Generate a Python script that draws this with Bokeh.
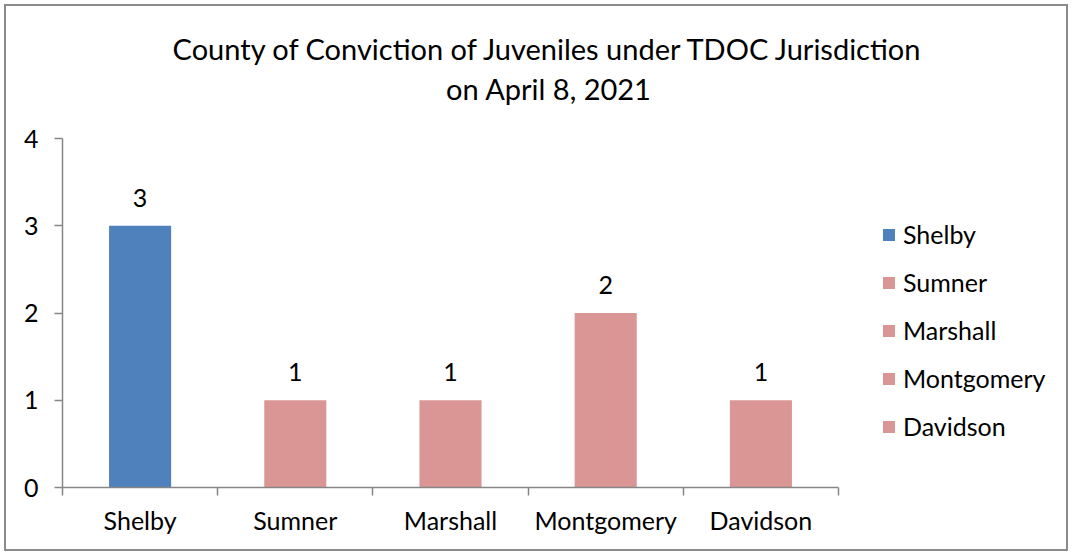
from bokeh.plotting import figure
from bokeh.models import (ColumnDataSource, FixedTicker, Legend, LegendItem,
                          Label, LabelSet, Range1d)
from bokeh.core.properties import value
from bokeh.embed import file_html
from bokeh.resources import INLINE

# ---- data ----
counties = ["Shelby", "Sumner", "Marshall", "Montgomery", "Davidson"]
counts = [3, 1, 1, 2, 1]
title_lines = ["County of Conviction of Juveniles under TDOC Jurisdiction",
               "on April 8, 2021"]
y_ticks = [0, 1, 2, 3, 4]

# ---- style ----
BLUE = "#4F81BD"
PINK = "#D99694"
bar_colors = [BLUE] + [PINK] * (len(counties) - 1)
FONT = "Lato"
FS = "25px"
TXT = "#000000"
AX = "#868686"

# ---- layout (pixels) ----
MARGIN = 6
W, H = 1060, 543
LEFT, BOTTOM, TOP, RIGHT = 56, 62, 0, 0
ncat = len(counties)
ymax = max(y_ticks)
axis_w = 776          # pixel length of the 5 categories
axis_h = 349          # pixel height of 0..4
frame_w = W - LEFT - RIGHT
frame_h = H - TOP - BOTTOM
x_end = ncat * frame_w / axis_w
y_end = ymax * frame_h / axis_h

xpos = [i + 0.5 for i in range(ncat)]
src = ColumnDataSource(dict(x=xpos, top=counts, county=counties,
                            color=bar_colors, lbl=[str(c) for c in counts]))

p = figure(width=W, height=H, output_backend="svg", toolbar_location=None,
           x_range=Range1d(0, x_end), y_range=Range1d(0, y_end),
           min_border_left=LEFT, min_border_right=RIGHT, min_border_top=TOP,
           min_border_bottom=BOTTOM, margin=MARGIN)
p.styles = {"outline": "2px solid #8a8a8a"}
p.background_fill_color = "white"
p.border_fill_color = "white"
p.outline_line_color = None
p.grid.visible = False

r = p.vbar(x="x", top="top", width=0.4, bottom=0, source=src,
           fill_color="color", line_color=None)

# x axis
xa = p.xaxis[0]
xa.bounds = (0, ncat)
xa.ticker = FixedTicker(ticks=xpos, minor_ticks=list(range(ncat + 1)))
xa.major_label_overrides = {x: c for x, c in zip(xpos, counties)}
xa.major_tick_out = 0
xa.major_tick_in = 0
xa.minor_tick_out = 8
xa.minor_tick_in = 0
xa.minor_tick_line_color = AX
xa.minor_tick_line_width = 1.5
xa.axis_line_color = AX
xa.axis_line_width = 1.5
xa.major_label_text_font = FONT
xa.major_label_text_font_size = FS
xa.major_label_text_color = TXT
xa.major_label_standoff = 9

# y axis
ya = p.yaxis[0]
ya.bounds = (0, ymax)
ya.ticker = FixedTicker(ticks=y_ticks, minor_ticks=[])
ya.major_tick_out = 8
ya.major_tick_in = 0
ya.major_tick_line_color = AX
ya.major_tick_line_width = 1.5
ya.axis_line_color = AX
ya.axis_line_width = 1.5
ya.major_label_text_font = FONT
ya.major_label_text_font_size = FS
ya.major_label_text_color = TXT
ya.major_label_standoff = 16

# data labels
p.add_layout(LabelSet(x="x", y="top", text="lbl", source=src, y_offset=28,
                      text_align="center", text_baseline="middle",
                      text_font=value(FONT), text_font_size=value(FS),
                      text_color=TXT))

# title (two lines), screen units relative to the frame
for t, yy in zip(title_lines, [439, 399]):
    p.add_layout(Label(x=486.5, y=yy, x_units="screen", y_units="screen", text=t,
                       text_align="center", text_baseline="middle",
                       text_font=FONT, text_font_size="29px", text_color=TXT))

# legend
items = [LegendItem(label=c, renderers=[r], index=i) for i, c in enumerate(counties)]
leg = Legend(items=items, location=(819, 46), orientation="vertical",
             glyph_width=15, glyph_height=15, label_standoff=7,
             label_height=20, spacing=18, padding=0, margin=0,
             border_line_color=None, background_fill_alpha=0,
             label_text_font=FONT, label_text_font_size=FS,
             label_text_color=TXT, label_text_baseline="middle")
p.add_layout(leg, "center")

open("out.html", "w").write(file_html(p, INLINE))
